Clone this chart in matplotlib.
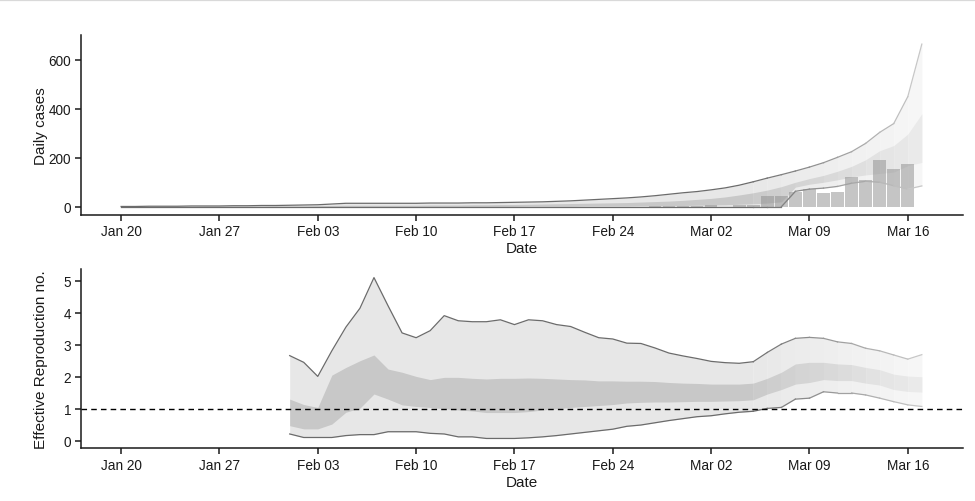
import numpy as np
import pandas as pd
import matplotlib
matplotlib.use("Agg")
import matplotlib.pyplot as plt
import matplotlib.dates as mdates
from matplotlib.lines import Line2D

plt.rcParams['font.family'] = ['Liberation Sans', 'DejaVu Sans']

# ---------------- data ----------------
case_dates = pd.date_range("2020-01-20", "2020-03-17", freq="D")
cases_upper90 = [1, 1, 2, 2, 2, 3, 3, 3, 4, 4, 5, 5, 6, 7, 8, 11, 14, 14, 14, 14,
                 14, 14, 15, 15, 15, 16, 16, 17, 18, 19, 20, 22, 24, 27, 30, 33, 36, 40, 45, 51,
                 57, 62, 69, 77, 88, 102, 117, 131, 146, 162, 180, 202, 225, 259, 304, 340, 450, 665]
cases_upper50 = [1, 1, 1, 1, 1, 1, 2, 2, 2, 2, 2, 3, 3, 3, 4, 5, 6, 6, 6, 6,
                 6, 6, 7, 7, 7, 8, 8, 9, 9, 10, 11, 12, 13, 14, 15, 16, 17, 19, 21, 23,
                 26, 30, 34, 40, 48, 57, 68, 82, 100, 115, 128, 145, 165, 192, 229, 250, 297, 380]
cases_lower50 = [0, 0, 0, 0, 0, 0, 0, 0, 0, 0, 0, 0, 0, 0, 0, 1, 1, 1, 1, 1,
                 1, 1, 1, 1, 1, 1, 1, 1, 1, 2, 2, 2, 2, 3, 3, 3, 3, 4, 4, 5,
                 5, 6, 7, 8, 10, 12, 15, 20, 80, 92, 100, 110, 122, 130, 136, 142, 168, 181]
cases_lower90 = [0] * 48 + [63, 72, 76, 83, 96, 104, 100, 86, 72, 85]

bar_dates = pd.date_range("2020-02-27", "2020-03-16", freq="D")
bar_cases = [1, 1, 1, 2, 7, 0, 8, 8, 44, 44, 59, 74, 56, 60, 121, 110, 189, 155, 175]

r_dates = pd.date_range("2020-02-01", "2020-03-17", freq="D")
r_upper90 = [2.66, 2.45, 2.01, 2.81, 3.55, 4.14, 5.10, 4.22, 3.37, 3.22,
             3.44, 3.91, 3.75, 3.72, 3.72, 3.78, 3.63, 3.78, 3.75, 3.63,
             3.57, 3.39, 3.22, 3.18, 3.05, 3.04, 2.90, 2.74, 2.65,
             2.57, 2.48, 2.44, 2.42, 2.47, 2.76, 3.02, 3.20, 3.23, 3.20,
             3.09, 3.04, 2.89, 2.81, 2.68, 2.55, 2.69]
r_upper50 = [1.30, 1.13, 1.04, 2.05, 2.29, 2.50, 2.68, 2.24, 2.14, 2.01,
             1.91, 1.98, 1.98, 1.95, 1.93, 1.95, 1.95, 1.96, 1.95, 1.93,
             1.91, 1.90, 1.87, 1.87, 1.86, 1.86, 1.85, 1.82, 1.80,
             1.79, 1.77, 1.77, 1.77, 1.80, 1.95, 2.14, 2.40, 2.45, 2.45,
             2.40, 2.38, 2.29, 2.22, 2.08, 2.02, 2.00]
r_lower50 = [0.47, 0.37, 0.37, 0.52, 0.89, 1.02, 1.46, 1.30, 1.12, 1.07,
             1.04, 1.00, 0.96, 0.93, 0.88, 0.88, 0.88, 0.91, 0.96, 1.00,
             1.04, 1.07, 1.10, 1.13, 1.18, 1.20, 1.21, 1.21, 1.22,
             1.23, 1.23, 1.24, 1.25, 1.28, 1.46, 1.60, 1.77, 1.82, 1.91,
             1.88, 1.88, 1.80, 1.74, 1.60, 1.54, 1.52]
r_lower90 = [0.21, 0.10, 0.10, 0.10, 0.16, 0.19, 0.19, 0.28, 0.28, 0.28,
             0.23, 0.21, 0.12, 0.12, 0.07, 0.07, 0.07, 0.09, 0.12, 0.16,
             0.21, 0.26, 0.31, 0.36, 0.45, 0.49, 0.56, 0.63, 0.69,
             0.75, 0.78, 0.84, 0.89, 0.92, 1.01, 1.04, 1.30, 1.33, 1.53,
             1.49, 1.49, 1.43, 1.33, 1.22, 1.12, 1.07]

tick_dates = pd.to_datetime(["2020-01-20", "2020-01-27", "2020-02-03", "2020-02-10",
                             "2020-02-17", "2020-02-24", "2020-03-02", "2020-03-09",
                             "2020-03-16"])
tick_labels = ["Jan 20", "Jan 27", "Feb 03", "Feb 10", "Feb 17", "Feb 24",
               "Mar 02", "Mar 09", "Mar 16"]
fade_start = pd.Timestamp("2020-03-05")

# ---------------- styling ----------------
OUTER = 0.905
INNER = 0.785
LINE = 0.42
AX_COL = "#1a1a1a"


def fade_color(g, f):
    v = 1 - f * (1 - g)
    return (v, v, v)


def draw_bands(ax, dates, lo90, lo50, hi50, hi90):
    x = mdates.date2num(dates)
    lo90, lo50, hi50, hi90 = map(np.asarray, (lo90, lo50, hi50, hi90))
    fs = mdates.date2num(fade_start)
    n = len(x)
    k0 = int(np.searchsorted(x, fs))
    sl = slice(0, k0 + 1)
    ax.fill_between(x[sl], lo90[sl], hi90[sl], color=fade_color(OUTER, 1), lw=0, zorder=1)
    ax.fill_between(x[sl], lo50[sl], hi50[sl], color=fade_color(INNER, 1), lw=0, zorder=2)
    ax.plot(x[sl], hi90[sl], color=fade_color(LINE, 1), lw=0.9, zorder=5)
    ax.plot(x[sl], lo90[sl], color=fade_color(LINE, 1), lw=0.9, zorder=5)
    for i in range(k0, n - 1):
        f = 1 - 0.62 * (i - k0 + 1) / (n - 1 - k0)
        s = slice(i, i + 2)
        ax.fill_between(x[s], lo90[s], hi90[s], color=fade_color(OUTER, f), lw=0, zorder=1)
        ax.fill_between(x[s], lo50[s], hi50[s], color=fade_color(INNER, f), lw=0, zorder=2)
        ax.plot(x[s], hi90[s], color=fade_color(LINE, f), lw=0.9, zorder=5)
        ax.plot(x[s], lo90[s], color=fade_color(LINE, f), lw=0.9, zorder=5)


def style_axes(ax, ylabel):
    for s in ("top", "right"):
        ax.spines[s].set_visible(False)
    for s in ("left", "bottom"):
        ax.spines[s].set_linewidth(1.1)
        ax.spines[s].set_color(AX_COL)
    ax.tick_params(axis="both", direction="out", length=4, width=1.1,
                   color=AX_COL, labelcolor=AX_COL, labelsize=9.8, pad=3)
    ax.set_xticks(mdates.date2num(tick_dates))
    ax.set_xticklabels(tick_labels)
    ax.set_xlim(mdates.date2num(pd.Timestamp("2020-01-17 03:30")),
                mdates.date2num(pd.Timestamp("2020-03-19 23:00")))
    ax.set_xlabel("Date", fontsize=11, color=AX_COL, labelpad=2)
    ax.set_ylabel(ylabel, fontsize=11, color=AX_COL)
    ax.yaxis.set_label_coords(-0.037, 0.5)


fig = plt.figure(figsize=(9.75, 5.02), dpi=100)
ax1 = fig.add_axes([0.0831, 0.5703, 0.905, 0.358])
ax2 = fig.add_axes([0.0831, 0.105, 0.905, 0.357])

# top panel
draw_bands(ax1, case_dates, cases_lower90, cases_lower50, cases_upper50, cases_upper90)
ax1.bar(mdates.date2num(bar_dates), bar_cases, width=0.9, color="#8c8c8c",
        alpha=0.5, lw=0, zorder=3)
ax1.set_ylim(-32.7, 702.2)
ax1.set_yticks([0, 200, 400, 600])
style_axes(ax1, "Daily cases")

# bottom panel
draw_bands(ax2, r_dates, r_lower90, r_lower50, r_upper50, r_upper90)
ax2.axhline(1, color="black", lw=1.0, ls=(0, (4, 3)), zorder=6)
ax2.set_ylim(-0.2375, 5.366)
ax2.set_yticks([0, 1, 2, 3, 4, 5])
style_axes(ax2, "Effective Reproduction no.")

# thin border line at the very top of the image
fig.add_artist(Line2D([0, 1], [1 - 0.6 / 502, 1 - 0.6 / 502], transform=fig.transFigure,
                      color="#d9d9d9", lw=0.9))

fig.savefig("out.png", dpi=100)
